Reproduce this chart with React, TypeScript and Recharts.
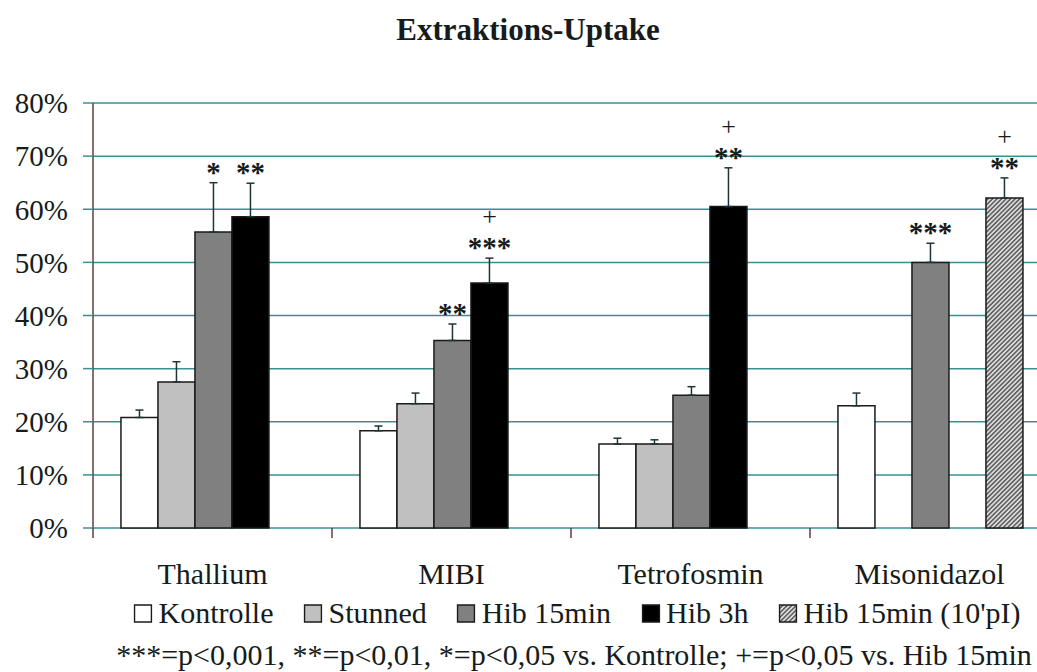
import React from 'react';
import { BarChart, Bar, XAxis, YAxis, CartesianGrid, ErrorBar, LabelList } from 'recharts';

// values, in percent
const categories = ['Thallium', 'MIBI', 'Tetrofosmin', 'Misonidazol'];
const kontrolle = [20.8, 18.3, 15.8, 23.0];
const kontrolleErr = [1.4, 0.9, 1.1, 2.4];
const stunned = [27.5, 23.4, 15.8, null];
const stunnedErr = [3.8, 2.0, 0.8, null];
const hib15 = [55.7, 35.3, 25.0, 50.0];
const hib15Err = [9.3, 3.1, 1.6, 3.6];
const hib3h = [58.6, 46.1, 60.5, null];
const hib3hErr = [6.3, 4.7, 7.3, null];
const hib15pi = [null, null, null, 62.1];
const hib15piErr = [null, null, null, 3.8];

// significance marks: stars vs. Kontrolle, "+" vs. Hib 15min
const kontrolleSig = ['', '', '', ''];
const stunnedSig = ['', '', '', ''];
const hib15Sig = ['*', '**', '', '***'];
const hib3hSig = ['**', '***+', '**+', ''];
const hib15piSig = ['', '', '', '**+'];

const yTicks = [0, 10, 20, 30, 40, 50, 60, 70, 80];
// group boundaries (whole numbers) get a tick mark, group centres get the name
const xTicks = [0, 0.5, 1, 1.5, 2, 2.5, 3, 3.5, 4];

const FONT = '"Liberation Serif", "Times New Roman", serif';
const TEXT = '#161c1c';
const GRID = '#3a9090';
const EDGE = '#1a1a1a';

const series = [
  { key: 'k', name: 'Kontrolle', fill: '#ffffff', vals: kontrolle, errs: kontrolleErr, sig: kontrolleSig },
  { key: 's', name: 'Stunned', fill: '#c0c0c0', vals: stunned, errs: stunnedErr, sig: stunnedSig },
  { key: 'h15', name: 'Hib 15min', fill: '#808080', vals: hib15, errs: hib15Err, sig: hib15Sig },
  { key: 'h3', name: 'Hib 3h', fill: '#000000', vals: hib3h, errs: hib3hErr, sig: hib3hSig },
  { key: 'hp', name: "Hib 15min (10'pI)", fill: 'url(#hatch)', vals: hib15pi, errs: hib15piErr, sig: hib15piSig },
];

const data = categories.map((name, i) => {
  const row: any = { name, idx: i + 0.5 };
  series.forEach((s) => {
    row[s.key] = s.vals[i];
    row[s.key + 'E'] = s.errs[i] == null ? undefined : [0, s.errs[i]];
  });
  return row;
});

// label value is the category name, so the lookup does not depend on which bars are drawn
const sigLabel = (vals: (number | null)[], errs: (number | null)[], sig: string[]) => (props: any) => {
  const vb = props.viewBox || {};
  const x = props.x ?? vb.x;
  const y = props.y ?? vb.y;
  const width = props.width ?? vb.width;
  const height = props.height ?? vb.height;
  const i = categories.indexOf(props.value);
  if (i < 0) return null;
  const s = sig[i];
  const v = vals[i];
  const e = errs[i];
  if (!s || v == null || e == null) return null;
  const top = y - (e * height) / v;
  const cx = x + width / 2;
  const stars = s.replace('+', '');
  const plus = s.includes('+');
  return (
    <g>
      {plus && (
        <text x={cx} y={top - 33} textAnchor="middle" fontFamily={FONT} fontSize={26} fill={TEXT}>
          +
        </text>
      )}
      <text x={cx} y={top - 1} textAnchor="middle" fontFamily={FONT} fontWeight="bold" fontSize={29} fill={TEXT}>
        {stars}
      </text>
    </g>
  );
};

const groupTick = (props: any) => {
  const { x, y, payload } = props;
  const v = payload.value;
  if (Number.isInteger(v)) {
    return <line x1={x} x2={x} y1={y} y2={y + 10} stroke="#5a4040" strokeWidth={1.5} />;
  }
  return (
    <text x={x} y={y + 56} textAnchor="middle" fontFamily={FONT} fontSize={30} fill={TEXT}>
      {categories[Math.floor(v)]}
    </text>
  );
};

const HatchPattern = ({ id }: { id: string }) => (
  <pattern id={id} width="3.2" height="3.2" patternUnits="userSpaceOnUse" patternTransform="rotate(45)">
    <rect width="3.2" height="3.2" fill="#dcdcdc" />
    <line x1="0.8" y1="0" x2="0.8" y2="3.2" stroke="#626262" strokeWidth="1.6" />
  </pattern>
);

const Swatch = ({ fill }: { fill: string }) => (
  <svg width={19} height={19} style={{ marginRight: 6 }}>
    <defs>
      <HatchPattern id="hatchSw" />
    </defs>
    <rect
      x={1}
      y={1}
      width={17}
      height={17}
      fill={fill === 'url(#hatch)' ? 'url(#hatchSw)' : fill}
      stroke={EDGE}
      strokeWidth={1.5}
    />
  </svg>
);

export default function App() {
  return (
    <div
      style={{
        position: 'absolute',
        left: 0,
        top: 0,
        width: 1037,
        height: 672,
        overflow: 'hidden',
        background: '#ffffff',
        fontFamily: FONT,
        color: TEXT,
      }}
    >
      <div
        style={{
          position: 'absolute',
          top: 12,
          left: 528,
          transform: 'translateX(-50%)',
          whiteSpace: 'nowrap',
          fontWeight: 'bold',
          fontSize: 31,
        }}
      >
        Extraktions-Uptake
      </div>

      <div style={{ position: 'absolute', left: 0, top: 0 }}>
        <BarChart
          width={1062}
          height={672}
          data={data}
          margin={{ top: 103, right: 13, left: 0, bottom: 72 }}
          barCategoryGap="11.7%"
          barGap={0}
        >
          <defs>
            <HatchPattern id="hatch" />
          </defs>
          <CartesianGrid vertical={false} stroke={GRID} strokeWidth={1.5} />
          <XAxis
            xAxisId="b"
            dataKey="idx"
            type="number"
            domain={[0, 4]}
            ticks={xTicks}
            interval={0}
            allowDataOverflow
            height={72}
            axisLine={false}
            tickLine={false}
            tickSize={0}
            tickMargin={0}
            tick={groupTick}
          />
          <XAxis dataKey="name" hide height={0} />
          <YAxis
            width={93}
            domain={[0, 80]}
            ticks={yTicks}
            interval={0}
            tickFormatter={(v: number) => `${v}%`}
            axisLine={{ stroke: '#6a3c3c', strokeWidth: 1.5 }}
            tickSize={10}
            tickLine={{ stroke: GRID, strokeWidth: 1.5 }}
            tickMargin={15}
            tick={{ fontFamily: FONT, fontSize: 29, fill: TEXT }}
          />
          {series.map((s) => (
            <Bar
              key={s.key}
              dataKey={s.key}
              name={s.name}
              fill={s.fill}
              stroke={EDGE}
              strokeWidth={1.5}
              isAnimationActive={false}
            >
              <ErrorBar dataKey={s.key + 'E'} direction="y" width={4} stroke="#1f3535" strokeWidth={1.5} />
              <LabelList dataKey="name" content={sigLabel(s.vals, s.errs, s.sig)} />
            </Bar>
          ))}
        </BarChart>
      </div>

      <div
        style={{
          position: 'absolute',
          top: 596,
          left: 577,
          transform: 'translateX(-50%)',
          whiteSpace: 'nowrap',
          fontSize: 30,
          display: 'flex',
          alignItems: 'center',
          gap: 30,
        }}
      >
        {series.map((s) => (
          <span key={s.key} style={{ display: 'inline-flex', alignItems: 'center' }}>
            <Swatch fill={s.fill} />
            {s.name}
          </span>
        ))}
      </div>

      <div
        style={{
          position: 'absolute',
          top: 638,
          left: 574,
          transform: 'translateX(-50%)',
          whiteSpace: 'nowrap',
          fontSize: 30,
        }}
      >
        ***=p&lt;0,001, **=p&lt;0,01, *=p&lt;0,05 vs. Kontrolle; +=p&lt;0,05 vs. Hib 15min
      </div>
    </div>
  );
}
